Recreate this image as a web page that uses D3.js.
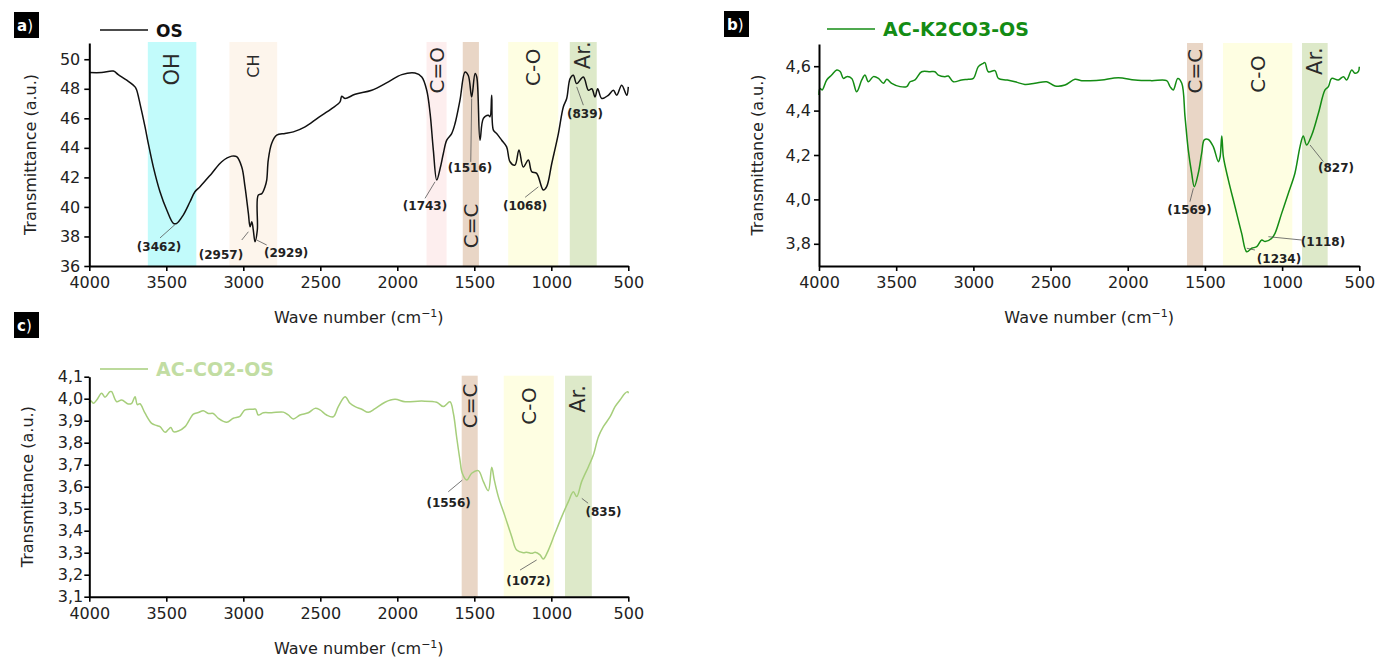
<!DOCTYPE html>
<html>
<head>
<meta charset="utf-8">
<script src="https://cdn.jsdelivr.net/npm/d3@7"></script>
<style>
  body { margin: 0; background: #fff; }
  text { font-family: "DejaVu Sans", sans-serif; }
</style>
</head>
<body>
<svg id="chart" width="1376" height="660"></svg>
<script>
// ---- data: [wave number, transmittance] ----
var osSpectrum = [
  [4000,49.1],[3920,49.1],[3844,49.2],[3812,48.96],[3757,48.58],[3703,48.13],[3692,47.9],[3671,47.0],
  [3638,45.42],[3617,44.3],[3584,42.7],[3541,41.03],[3497,39.79],[3454,38.89],[3432,38.89],[3390,39.45],
  [3346,40.35],[3314,41.03],[3281,41.37],[3205,42.27],[3140,43.06],[3075,43.44],[3043,43.4],[3010,42.7],
  [2989,41.37],[2967,39.56],[2956,38.66],[2945,39.0],[2935,38.43],[2924,37.65],[2909,38.43],[2903,40.8],
  [2880,40.9],[2859,41.37],[2848,41.82],[2838,43.17],[2816,44.3],[2783,44.86],[2729,44.97],[2675,45.08],
  [2599,45.42],[2513,46.05],[2426,46.66],[2372,47.11],[2361,47.5],[2340,47.34],[2274,47.63],[2166,47.9],
  [2058,48.47],[1971,48.96],[1885,49.07],[1841,48.8],[1809,47.9],[1787,46.33],[1766,43.85],[1744,41.82],
  [1722,42.6],[1701,43.62],[1679,44.52],[1647,44.97],[1625,45.65],[1593,47.23],[1560,49.14],[1539,48.9],
  [1517,47.45],[1495,49.03],[1484,48.8],[1463,44.52],[1441,45.99],[1409,46.21],[1398,46.1],[1387,47.56],
  [1376,45.2],[1355,44.97],[1322,44.52],[1290,44.07],[1268,43.06],[1236,42.83],[1210,43.85],[1182,42.7],
  [1149,43.17],[1127,42.38],[1095,42.27],[1052,41.14],[1030,41.37],[997,42.94],[954,44.97],[922,46.77],
  [900,47.34],[878,48.69],[857,48.92],[835,48.35],[792,48.8],[759,47.9],[737,48.0],[716,47.45],
  [699,48.0],[672,47.34],[630,47.56],[597,47.9],[575,47.56],[543,48.24],[510,47.56],[500,48.13]
]

var k2co3Spectrum = [
  [4000,4.47],[3994,4.5],[3980,4.493],[3950,4.538],[3918,4.56],[3885,4.583],[3863,4.576],[3842,4.545],
  [3820,4.553],[3788,4.545],[3756,4.485],[3723,4.538],[3702,4.56],[3680,4.53],[3648,4.553],[3615,4.545],
  [3583,4.523],[3561,4.541],[3529,4.523],[3475,4.508],[3432,4.508],[3410,4.53],[3378,4.538],[3335,4.575],
  [3281,4.575],[3249,4.575],[3227,4.56],[3184,4.553],[3162,4.556],[3130,4.53],[3076,4.538],[3033,4.541],
  [3000,4.545],[2968,4.598],[2936,4.613],[2925,4.616],[2903,4.575],[2860,4.58],[2838,4.545],[2784,4.538],
  [2730,4.53],[2666,4.518],[2601,4.523],[2525,4.53],[2471,4.511],[2406,4.515],[2342,4.541],[2298,4.535],
  [2244,4.535],[2169,4.538],[2061,4.548],[1953,4.538],[1845,4.535],[1748,4.535],[1726,4.508],[1705,4.493],
  [1676,4.545],[1650,4.523],[1629,4.373],[1608,4.223],[1586,4.118],[1569,4.057],[1543,4.118],[1521,4.208],
  [1504,4.268],[1478,4.27],[1446,4.238],[1413,4.17],[1402,4.19],[1391,4.286],[1380,4.19],[1348,4.087],
  [1305,3.967],[1262,3.847],[1229,3.764],[1197,3.78],[1164,3.787],[1132,3.817],[1110,3.81],[1067,3.825],
  [1046,3.847],[1003,3.937],[960,4.027],[917,4.118],[884,4.238],[863,4.286],[841,4.245],[808,4.29],
  [765,4.388],[722,4.493],[700,4.508],[679,4.545],[636,4.538],[603,4.553],[582,4.538],[549,4.583],
  [528,4.568],[506,4.576],[500,4.598]
]

var co2Spectrum = [
  [4000,3.979],[3990,3.991],[3974,3.979],[3952,3.994],[3920,4.025],[3898,4.007],[3866,4.032],[3855,4.032],
  [3822,3.986],[3790,3.994],[3747,3.976],[3725,3.979],[3703,4.009],[3688,3.973],[3671,3.977],[3638,3.934],
  [3595,3.888],[3562,3.878],[3541,3.873],[3508,3.847],[3487,3.86],[3470,3.869],[3454,3.85],[3422,3.853],
  [3378,3.873],[3324,3.93],[3292,3.937],[3260,3.945],[3227,3.933],[3195,3.933],[3162,3.911],[3108,3.893],
  [3065,3.911],[3022,3.92],[2989,3.949],[2935,3.952],[2920,3.953],[2903,3.926],[2870,3.936],[2816,3.936],
  [2740,3.939],[2708,3.926],[2675,3.908],[2632,3.926],[2578,3.936],[2534,3.956],[2502,3.949],[2459,3.926],
  [2416,3.918],[2383,3.964],[2339,4.009],[2307,3.979],[2274,3.964],[2231,3.952],[2188,3.938],[2144,3.955],
  [2080,3.984],[2015,3.997],[1950,3.986],[1841,3.989],[1744,3.984],[1701,3.964],[1658,3.986],[1636,3.934],
  [1615,3.827],[1593,3.721],[1578,3.661],[1549,3.63],[1517,3.661],[1474,3.673],[1441,3.623],[1409,3.582],
  [1387,3.688],[1370,3.63],[1344,3.555],[1300,3.464],[1257,3.373],[1225,3.312],[1182,3.3],[1160,3.302],
  [1127,3.297],[1105,3.302],[1073,3.29],[1052,3.271],[1019,3.312],[976,3.388],[932,3.464],[889,3.532],
  [857,3.577],[835,3.555],[803,3.623],[759,3.691],[727,3.744],[694,3.827],[662,3.873],[618,3.918],
  [586,3.964],[554,3.994],[521,4.025],[503,4.032],[500,4.025]
]

// ---- shaded bands: [label, from, to] in cm-1 ----
var osBands = [["OH",3620,3305],["CH",3090,2780],["C=O",1810,1680],["C=C",1575,1470],["C-O",1280,955],["Ar.",880,705]]
var k2co3Bands = [["C=C",1616,1512],["C-O",1383,934],["Ar.",871,705]]
var co2Bands = [["C=C",1582,1478],["C-O",1309,984],["Ar.",911,737]]

// ---- peak labels ----
var osPeaks = ["(3462)","(2957)","(2929)","(1743)","(1516)","(1068)","(839)"]
var k2co3Peaks = ["(1569)","(1234)","(1118)","(827)"]
var co2Peaks = ["(1556)","(1072)","(835)"]

// ---- ticks ----
var xTicks = [4000,3500,3000,2500,2000,1500,1000,500]
var osYTicks = [36,38,40,42,44,46,48,50]
var k2co3YTicks = [3.8,4.0,4.2,4.4,4.6]
var co2YTicks = [3.1,3.2,3.3,3.4,3.5,3.6,3.7,3.8,3.9,4.0,4.1]

// ---- styles ----
var bandColors = {"OH":"#c2fbfb","CH":"#fdf5ec","C=O":"#fdeeee","C=C":"#e9d6c6","C-O":"#fefee2","Ar.":"#dde9c9"}
var bandFont = {"OH":21,"CH":16,"C=O":20,"C=C":20,"C-O":20,"Ar.":21}

var svg = d3.select("#chart")
svg.append("rect").attr("width",1376).attr("height",660).attr("fill","#fff")

function comma(f) { return function(d){ return d3.format(f)(d).replace(".", ",") } }

function drawPanel(p) {
  var x = d3.scaleLinear().domain([4000,500]).range([p.left, p.right])
  var y = d3.scaleLinear().domain(p.yDomain).range([p.bottom, p.top])
  var g = svg.append("g")

  // bands
  g.selectAll(".band").data(p.bands).enter().append("rect")
    .attr("x", function(d){ return x(d[1]) })
    .attr("width", function(d){ return x(d[2]) - x(d[1]) })
    .attr("y", p.top - 1)
    .attr("height", p.bottom - p.top + 1)
    .attr("fill", function(d){ return bandColors[d[0]] })

  // spectrum
  var line = d3.line()
    .x(function(d){ return x(d[0]) })
    .y(function(d){ return y(d[1]) })
    .curve(d3.curveCatmullRom.alpha(0.5))
  g.append("path").datum(p.spectrum)
    .attr("d", line)
    .attr("fill", "none")
    .attr("stroke", p.color)
    .attr("stroke-width", 1.5)
    .attr("stroke-linejoin", "round")

  // band labels
  g.selectAll(".bandlab").data(p.bands).enter().append("text")
    .attr("transform", function(d, i){
      return "translate(" + x((d[1] + d[2]) / 2) + "," + y(p.bandLabelY[i]) + ") rotate(-90)" })
    .attr("text-anchor", "middle")
    .attr("dominant-baseline", "central")
    .style("font-size", function(d){ return bandFont[d[0]] + "px" })
    .attr("fill", "#2a2a2a")
    .text(function(d){ return d[0] })

  // peak leaders + labels
  g.selectAll(".leader").data(p.peaks).enter().append("line")
    .attr("x1", function(d, i){ return x(p.peakPos[i][2]) })
    .attr("y1", function(d, i){ return y(p.peakPos[i][3]) })
    .attr("x2", function(d, i){ return x(p.peakPos[i][4]) })
    .attr("y2", function(d, i){ return y(p.peakPos[i][5]) })
    .attr("stroke", "#555")
    .attr("stroke-width", 0.8)
  g.selectAll(".peak").data(p.peaks).enter().append("text")
    .attr("x", function(d, i){ return x(p.peakPos[i][0]) })
    .attr("y", function(d, i){ return y(p.peakPos[i][1]) })
    .attr("text-anchor", "middle")
    .attr("dominant-baseline", "central")
    .style("font-size", "12px")
    .style("font-weight", "bold")
    .attr("fill", "#222")
    .text(function(d){ return d })

  // axes
  var xMinor = d3.pairs(xTicks).map(function(m){ return (m[0] + m[1]) / 2 })
  var yMinor = d3.pairs(p.yTicks).map(function(m){ return (m[0] + m[1]) / 2 })
    .concat(p.yExtraMinor)

  var gx = g.append("g").attr("transform", "translate(0," + p.bottom + ")")
  gx.call(d3.axisBottom(x).tickValues(xMinor).tickSize(4).tickSizeOuter(0).tickFormat(""))
  gx.call(d3.axisBottom(x).tickValues(xTicks).tickSize(5).tickPadding(6).tickSizeOuter(0).tickFormat(d3.format("d")))

  var gy = g.append("g").attr("transform", "translate(" + p.left + ",0)")
  gy.call(d3.axisLeft(y).tickValues(yMinor).tickSize(3).tickSizeOuter(0).tickFormat(""))
  gy.call(d3.axisLeft(y).tickValues(p.yTicks).tickSize(5).tickPadding(p.yPad).tickSizeOuter(0).tickFormat(p.yFormat))

  g.selectAll(".domain").attr("stroke", "#000").attr("stroke-width", 2)
  g.selectAll(".tick line").attr("stroke", "#000").attr("stroke-width", 1.6)
  g.selectAll(".tick text").style("font-size", "16px").attr("fill", "#222")

  // axis titles
  g.append("text")
    .attr("x", (p.left + p.right) / 2)
    .attr("y", p.bottom + 57)
    .attr("text-anchor", "middle")
    .style("font-size", "16px")
    .attr("fill", "#222")
    .html("Wave number (cm<tspan dy='-6' font-size='11px'>\u22121</tspan><tspan dy='6'>)</tspan>")
  g.append("text")
    .attr("transform", "translate(" + p.yTitleX + "," + (p.top + p.bottom) / 2 + ") rotate(-90)")
    .attr("text-anchor", "middle")
    .attr("dominant-baseline", "central")
    .style("font-size", "16px")
    .attr("fill", "#222")
    .text("Transmittance (a.u.)")

  // panel letter
  g.append("rect").attr("x", p.tagX).attr("y", p.tagY).attr("width", 25).attr("height", 26).attr("fill", "#000")
  g.append("text").attr("x", p.tagX + 3).attr("y", p.tagY + 19)
    .style("font-size", "15px").attr("fill", "#fff")
    .html("<tspan font-weight='bold'>" + p.tag + "</tspan>)")

  // legend
  g.append("line")
    .attr("x1", p.legX).attr("x2", p.legX + 48)
    .attr("y1", p.legY).attr("y2", p.legY)
    .attr("stroke", p.color).attr("stroke-width", 1.5)
  g.append("text")
    .attr("x", p.legX + 56).attr("y", p.legY + 7)
    .style("font-size", p.legFont + "px")
    .style("font-weight", "bold")
    .attr("fill", p.legColor)
    .text(p.name)
}

drawPanel({
  tag: "a", name: "OS", spectrum: osSpectrum, color: "#111", legColor: "#111", legFont: 17,
  bands: osBands, peaks: osPeaks,
  left: 89.3, right: 628.3, top: 43, bottom: 266,
  yDomain: [36, 51.1], yTicks: osYTicks, yExtraMinor: [51], yFormat: d3.format("d"), yPad: 4,
  yTitleX: 30, tagX: 14, tagY: 12, legX: 100, legY: 30,
  bandLabelY: [49.32, 49.53, 49.26, 38.71, 49.46, 50.27],
  peakPos: [
    [3547,37.28, 3443,38.81, 3541,37.9],
    [3145,36.74, 2967,38.32, 3010,37.76],
    [2722,36.91, 2913,37.76, 2848,37.42],
    [1820,40.06, 1755,41.7, 1820,40.58],
    [1528,42.63, 1517,47.34, 1523,43.05],
    [1170,40.06, 1084,41.36, 1170,40.65],
    [781,46.31, 835,48.13, 792,46.89]
  ]
})

drawPanel({
  tag: "b", name: "AC-K2CO3-OS", spectrum: k2co3Spectrum, color: "#148c14", legColor: "#148c14", legFont: 19,
  bands: k2co3Bands, peaks: k2co3Peaks,
  left: 819, right: 1359.3, top: 44, bottom: 266,
  yDomain: [3.7, 4.7], yTicks: k2co3YTicks, yExtraMinor: [3.7, 4.7], yFormat: comma(".1f"), yPad: 3,
  yTitleX: 757, tagX: 724, tagY: 11, legX: 827, legY: 29,
  bandLabelY: [4.578, 4.565, 4.623],
  peakPos: [
    [1600,3.952, 1575,4.05, 1597,3.99],
    [1020,3.732, 1229,3.78, 1176,3.772],
    [735,3.806, 1089,3.832, 873,3.817],
    [651,4.141, 819,4.245, 733,4.17]
  ]
})

drawPanel({
  tag: "c", name: "AC-CO2-OS", spectrum: co2Spectrum, color: "#a6ce7b", legColor: "#c2dda3", legFont: 19,
  bands: co2Bands, peaks: co2Peaks,
  left: 89.3, right: 628.3, top: 376.7, bottom: 596.7,
  yDomain: [3.1, 4.1], yTicks: co2YTicks, yExtraMinor: [], yFormat: comma(".1f"), yPad: 1,
  yTitleX: 27, tagX: 14, tagY: 312, legX: 100, legY: 369,
  bandLabelY: [3.967, 3.967, 3.999],
  peakPos: [
    [1667,3.528, 1578,3.63, 1669,3.577],
    [1148,3.171, 1095,3.267, 1203,3.221],
    [661,3.487, 802,3.547, 761,3.525]
  ]
})
</script>
</body>
</html>
